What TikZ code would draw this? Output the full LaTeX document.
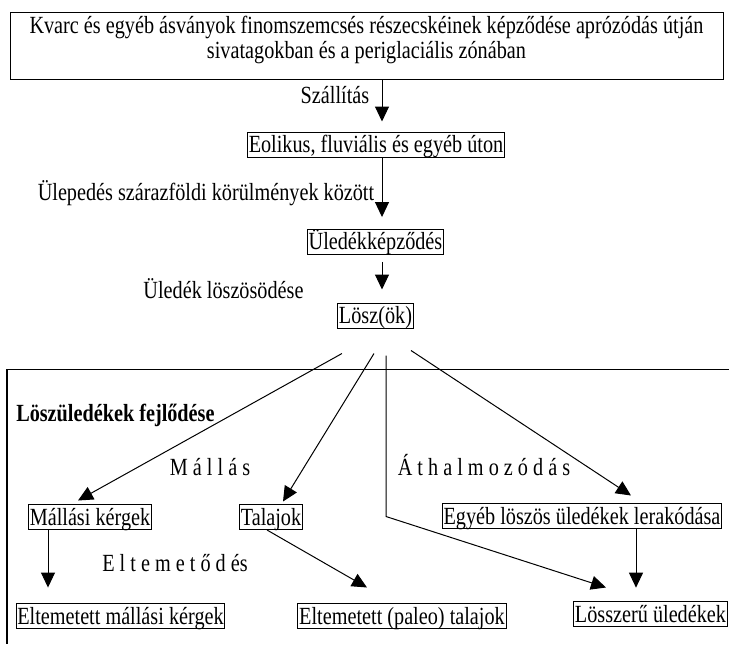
\documentclass[tikz,border=0pt]{standalone}
\usepackage{fontspec}
\setmainfont{Liberation Serif}[FakeStretch=0.82]
\usetikzlibrary{arrows.meta,calc}
\begin{document}
\begin{tikzpicture}[x=0.75pt,y=-0.75pt,
  txt/.style={font=\fontsize{18.5}{18.75}\selectfont},
  box/.style={txt,draw,line width=0.75pt,inner xsep=1pt,inner ysep=0pt,text height=15.5pt,text depth=3.25pt},
  lbl/.style={txt,inner sep=0pt,text height=15.5pt,text depth=3.25pt},
  ln/.style={line width=0.75pt},
  arr/.style={ln,-{Triangle[length=11.25pt,width=10.5pt]}}]
\useasboundingbox (0,0) rectangle (729,644);
% top box
\node[draw,line width=0.75pt,minimum width=534.75pt,minimum height=50.25pt,inner sep=0pt] (top) at (366.5,46) {};
\node[txt,align=center,inner sep=0pt] (toptext) at (366.5,40) {Kvarc és egyéb ásványok finomszemcsés részecskéinek képződése aprózódás útján\\sivatagokban és a periglaciális zónában};
% chain
\node[box] (eol) at (376,144.5) {Eolikus, fluviális és egyéb úton};
\node[box] (uled) at (375.5,241.5) {Üledékképződés};
\node[box] (losz) at (375.5,315.5) {Lösz(ök)};
\node[lbl] (l1) at (335,95) {Szállítás};
\node[lbl] (l2) at (206,192.5) {Ülepedés szárazföldi körülmények között};
\node[lbl] (l3) at (223.5,290) {Üledék löszösödése};
\coordinate (ax) at (382,0);
\draw[arr,shorten >=7.5pt] (top.south -| ax) -- (eol.north -| ax);
\draw[arr,shorten >=8.6pt] (eol.south -| ax) -- (uled.north -| ax);
\draw[arr,shorten <=5.5pt,shorten >=9.75pt] (uled.south -| ax) -- (losz.north -| ax);
% frame
\draw[line width=0.75pt] (7,369) -- (729,369);
\draw[line width=1.5pt] (7,369) -- (7,644);
\node[lbl,font=\fontsize{18.5}{18.75}\selectfont\bfseries,anchor=west] (fejl) at (16,413) {Löszüledékek fejlődése};
% second level
\node[box] (mk) at (90,517) {Mállási kérgek};
\node[box] (tal) at (271,517) {Talajok};
\node[box] (egy) at (582,516) {Egyéb löszös üledékek lerakódása};
\node[box] (emk) at (120.5,616) {Eltemetett mállási kérgek};
\node[box] (pal) at (402,616) {Eltemetett (paleo) talajok};
\node[box] (lsz) at (650.5,614) {Lösszerű üledékek};
\node[lbl] (mallas) at (210,467) {M á l l á s};
\node[lbl] (athal) at (484,467) {Á t h a l m o z ó d á s};
\node[lbl] (elt) at (175,563.5) {E l t e m e t ő d és};
% branches from Lösz
\coordinate (s1) at ($(losz.south)+(-33.5,25)$);
\coordinate (s2) at ($(losz.south)+(-1.5,25)$);
\coordinate (s3) at ($(losz.south)+(10.5,27)$);
\coordinate (s4) at ($(losz.south)+(35.5,22)$);
\coordinate (bend) at ($(s3)+(0,161)$);
\draw[arr] (s1) -- ($(mk.north)+(-12,-3.5)$);
\draw[arr] (s2) -- ($(tal.north)+(12,-2.5)$);
\draw[arr] (s4) -- ($(egy.north)+(49,-7.5)$);
\draw[arr] (s3) -- (bend) -- ($(lsz.north)+(-44.5,-13.5)$);
\coordinate (ax2) at (48,0);
\coordinate (ax3) at (636,0);
\draw[arr,shorten >=11.6pt] (mk.south -| ax2) -- (emk.north -| ax2);
\draw[arr] ($(tal.south)+(-4,0)$) -- ($(pal.north)+(-35,-15.5)$);
\draw[arr,shorten >=10pt] (egy.south -| ax3) -- (lsz.north -| ax3);
\end{tikzpicture}
\end{document}
